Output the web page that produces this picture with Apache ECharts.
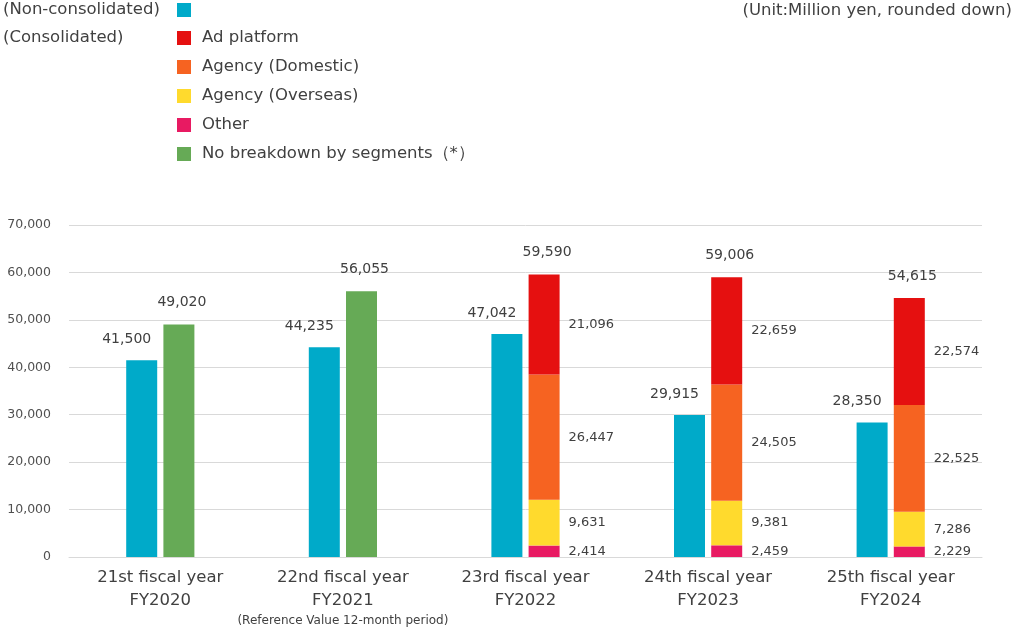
<!DOCTYPE html>
<html>
<head>
<meta charset="utf-8">
<script src="https://cdn.jsdelivr.net/npm/echarts@6/dist/echarts.min.js"></script>
<style>
html,body{margin:0;padding:0;background:#fff;}
#chart{width:1024px;height:630px;}
</style>
</head>
<body>
<div id="chart"></div>
<script>
const categories = ['21st fiscal year\nFY2020', '22nd fiscal year\nFY2021', '23rd fiscal year\nFY2022', '24th fiscal year\nFY2023', '25th fiscal year\nFY2024'];
const categoryNotes = ['', '(Reference Value 12-month period)', '', '', ''];
const nonConsolidated = [41500, 44235, 47042, 29915, 28350];
const noBreakdown = [49020, 56055, '-', '-', '-'];
const other = ['-', '-', 2414, 2459, 2229];
const agencyOverseas = ['-', '-', 9631, 9381, 7286];
const agencyDomestic = ['-', '-', 26447, 24505, 22525];
const adPlatform = ['-', '-', 21096, 22659, 22574];
const consolidatedTotal = [49020, 56055, 59590, 59006, 54615];
const yTicks = [0, 10000, 20000, 30000, 40000, 50000, 60000, 70000];

const fmt = v => Number(v).toLocaleString('en-US');
const FONT = 'DejaVu Sans';
const TXT = '#404040';

const segLabel = {
  show: true, position: 'right', distance: 9,
  fontFamily: FONT, fontSize: 13, color: TXT,
  formatter: p => fmt(p.value)
};

const chart = echarts.init(document.getElementById('chart'));
chart.setOption({
  animation: false,
  textStyle: { fontFamily: FONT },
  grid: { left: 69, right: 42, top: 225, bottom: 72.5, containLabel: false },
  graphic: [
    { type: 'text', left: 3, top: 1, style: { text: '(Non-consolidated)', font: '16.5px "DejaVu Sans"', fill: TXT } },
    { type: 'text', left: 3, top: 29, style: { text: '(Consolidated)', font: '16.5px "DejaVu Sans"', fill: TXT } },
    { type: 'text', right: 12, top: 2, style: { text: '(Unit:Million yen, rounded down)', font: '16.5px "DejaVu Sans"', fill: TXT } }
  ],
  legend: [
    {
      data: ['Non-consolidated'], left: 177, top: 3, padding: 0,
      itemWidth: 14, itemHeight: 14, icon: 'rect', selectedMode: false,
      formatter: () => '', textStyle: { fontSize: 1 }
    },
    {
      data: ['Ad platform', 'Agency (Domestic)', 'Agency (Overseas)', 'Other', 'No breakdown by segments（*）'],
      orient: 'vertical', left: 177, top: 27, itemGap: 7, padding: 0,
      itemWidth: 14, itemHeight: 14, icon: 'rect', selectedMode: false,
      textStyle: { fontFamily: FONT, fontSize: 16.5, color: TXT, lineHeight: 20, padding: [2, 0, 0, 6] }
    }
  ],
  xAxis: {
    type: 'category', data: categories,
    axisTick: { show: false },
    axisLine: { lineStyle: { color: '#d9d9d9' } },
    axisLabel: {
      interval: 0, margin: 9, fontFamily: FONT, fontSize: 16.5, lineHeight: 23, color: TXT,
      formatter: (v, i) => categoryNotes[i] ? v + '\n{s|' + categoryNotes[i] + '}' : v,
      rich: { s: { fontFamily: FONT, fontSize: 12, lineHeight: 18, color: TXT } }
    }
  },
  yAxis: {
    type: 'value', min: yTicks[0], max: yTicks[yTicks.length - 1], interval: yTicks[1] - yTicks[0],
    axisLine: { show: false }, axisTick: { show: false },
    splitLine: { lineStyle: { color: '#d9d9d9' } },
    axisLabel: { margin: 18, fontFamily: FONT, fontSize: 12.5, color: '#505050', formatter: v => fmt(v) }
  },
  series: [
    {
      name: 'Non-consolidated', type: 'bar', data: nonConsolidated, barWidth: 31, barGap: '20%',
      itemStyle: { color: '#00AAC9' },
      label: { show: true, position: 'top', distance: 14, offset: [-15, 0], fontFamily: FONT, fontSize: 14, color: TXT, formatter: p => fmt(p.value) }
    },
    {
      name: 'No breakdown by segments（*）', type: 'bar', stack: 'c', data: noBreakdown, barWidth: 31, barGap: '20%',
      itemStyle: { color: '#66AA56' }
    },
    {
      name: 'Other', type: 'bar', stack: 'c', data: other, barWidth: 31, barGap: '20%',
      itemStyle: { color: '#E81A62' }, label: segLabel
    },
    {
      name: 'Agency (Overseas)', type: 'bar', stack: 'c', data: agencyOverseas, barWidth: 31, barGap: '20%',
      itemStyle: { color: '#FFDA2D' }, label: segLabel
    },
    {
      name: 'Agency (Domestic)', type: 'bar', stack: 'c', data: agencyDomestic, barWidth: 31, barGap: '20%',
      itemStyle: { color: '#F66321' }, label: segLabel
    },
    {
      name: 'Ad platform', type: 'bar', stack: 'c', data: adPlatform, barWidth: 31, barGap: '20%',
      itemStyle: { color: '#E51010' }, label: segLabel
    },
    {
      name: 'Consolidated total', type: 'bar', stack: 'c', data: consolidatedTotal.map(() => 0), barWidth: 31, barGap: '20%',
      itemStyle: { color: 'rgba(0,0,0,0)' },
      label: { show: true, position: 'top', distance: 15, offset: [3, 0], fontFamily: FONT, fontSize: 14, color: TXT,
        formatter: p => fmt(consolidatedTotal[p.dataIndex]) }
    }
  ]
});
</script>
</body>
</html>
